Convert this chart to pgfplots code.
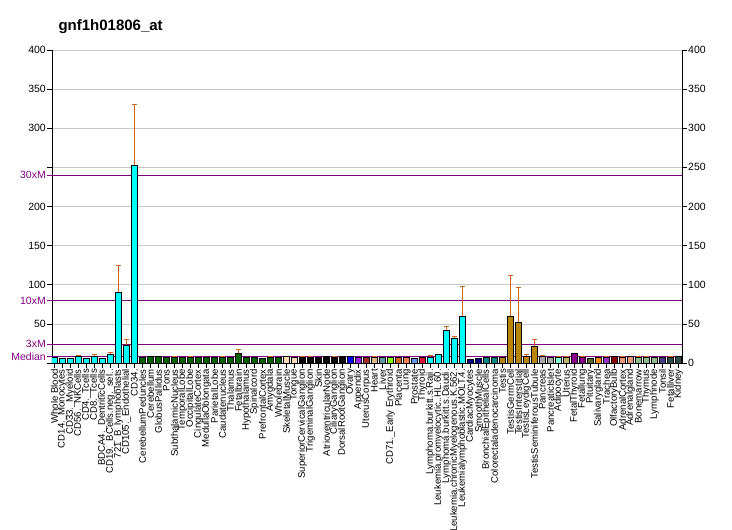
\documentclass[border=0pt]{standalone}
\usepackage{fontspec}
\setmainfont{Liberation Sans}
\usepackage{pgfplots}
\pgfplotsset{compat=1.18}

\definecolor{cyanc}{HTML}{00FFFF}
\definecolor{dgreen}{HTML}{006400}
\definecolor{peach}{HTML}{FFDAB9}
\definecolor{blue0}{HTML}{0000FF}
\definecolor{purp}{HTML}{A020F0}
\definecolor{brown0}{HTML}{A52A2A}
\definecolor{burly}{HTML}{DEB887}
\definecolor{cadet}{HTML}{5F9EA0}
\definecolor{chart}{HTML}{7FFF00}
\definecolor{choc}{HTML}{D2691E}
\definecolor{coral0}{HTML}{FF7F50}
\definecolor{cornfl}{HTML}{6495ED}
\definecolor{crimson}{HTML}{DC143C}
\definecolor{dblue}{HTML}{00008B}
\definecolor{dcyan}{HTML}{008B8B}
\definecolor{dgold}{HTML}{B8860B}
\definecolor{dgray}{HTML}{A9A9A9}
\definecolor{aquam}{HTML}{7FFFD4}
\definecolor{dkhaki}{HTML}{BDB76B}
\definecolor{dmag}{HTML}{8B008B}
\definecolor{dolive}{HTML}{556B2F}
\definecolor{dorange}{HTML}{FF8C00}
\definecolor{dorchid}{HTML}{9932CC}
\definecolor{dred}{HTML}{8B0000}
\definecolor{dsalmon}{HTML}{E9967A}
\definecolor{dsea}{HTML}{8FBC8F}
\definecolor{dslblue}{HTML}{483D8B}
\definecolor{dslgray}{HTML}{2F4F4F}
\definecolor{mline}{HTML}{800080}
\definecolor{errc}{HTML}{CD661D}
\definecolor{gridc}{HTML}{C8C8C8}

\pgfplotsset{
  gbar/.style={ybar, bar width=6pt, bar shift=0pt, draw=black, line width=0.8pt, fill=#1},
}

\begin{document}
\begin{tikzpicture}[x=1pt,y=1pt]
\path[use as bounding box] (-52,-167) rectangle (680,363);
\begin{axis}[
  at={(0,0)}, anchor=south west,
  width=630pt, height=313pt, scale only axis,
  xmin=0.71, xmax=79.44, ymin=0, ymax=400,
  axis x line*=bottom, axis y line*=left,
  axis line style={line width=0.8pt},
  tick align=outside, major tick length=5pt,
  tick style={black, line width=0.6pt},
  ytick={0,50,...,400},
  yticklabels={,50,100,150,200,,300,350,400},
  ymajorgrids=true,
  grid style={gridc, line width=0.7pt},
  extra y ticks={8,24,80,240},
  extra y tick labels={Median,3xM,10xM,30xM},
  extra y tick style={grid=major, major grid style={mline, line width=0.8pt},
    tick style={mline}, yticklabel style={text=mline}},
  yticklabel style={font=\fontsize{10.5}{12}\selectfont, inner sep=1pt},
  /pgf/number format/assume math mode=true,
  xtick={1,...,79},
  xticklabels={Whole Blood,CD14.\_Monocytes,CD33.\_Myeloid,CD56.\_NKCells,CD4.\_Tcells,CD8.\_Tcells,BDCA4.\_DentriticCells,CD19.\_BCells.neg.\_sel..,721\_B\_lymphoblasts,CD105.\_Endothelial,CD34.,CerebellumPeduncles,Cerebellum,GlobusPallidus,Pons,SubthalamicNucleus,TemporalLobe,OccipitalLobe,CingulateCortex,MedullaOblongata,ParietalLobe,Caudatenucleus,Thalamus,Fetalbrain,Hypothalamus,Spinalcord,PrefrontalCortex,Amygdala,Wholebrain,SkeletalMuscle,Tongue,SuperiorCervicalGanglion,TrigeminalGanglion,Skin,AtrioventricularNode,CiliaryGanglion,DorsalRootGanglion,Ovary,Appendix,UterusCorpus,Heart,Liver,CD71.\_Early Erythroid,Placenta,Lung,Prostate,Thyroid,Lymphoma.burkitt.s.Raji.,Leukemia.promyelocytic..HL.60.,Lymphoma.burkitt.s.Daudi.,Leukemia.chronicMyelogenous.K.562.,Leukemialymphoblastic.MOLT.4.,CardiacMyocytes,SmoothMuscle,BronchialEpithelialCells,Colorectaladenocarcinoma,Testis,TestisGermCell,TestisInterstitial,TestisLeydigCell,TestisSeminiferousTubule,Pancreas,PancreaticIslet,Adipocyte,Uterus,FetalThyroid,Fetallung,Pituitary,Salivarygland,Trachea,OlfactoryBulb,AdrenalCortex,Adrenalgland,Bonemarrow,Thymus,Lymphnode,Tonsil,Fetalliver,Kidney},
  xticklabel style={rotate=90, anchor=east, inner sep=1pt, font=\fontsize{9.6}{9.6}\selectfont},
]
% error bars first, so the bar outlines sit on top
\addplot[ybar, bar width=6pt, bar shift=0pt, draw=none, fill=none, forget plot,
  error bars/.cd, y dir=plus, y explicit, error mark=|,
  error bar style={errc, line width=0.8pt},
  error mark options={errc, mark size=2.5pt, line width=0.8pt}]
  coordinates {
  (4,8)+-(0,2) (6,8)+-(0,3) (8,11)+-(0,3) (9,90)+-(0,35) (10,23)+-(0,7) (11,253)+-(0,77)
  (16,7)+-(0,1.5) (18,7)+-(0,1.5) (22,7)+-(0,1.5) (24,12.4)+-(0,5) (28,7)+-(0,1.5)
  (32,7)+-(0,1.5) (33,7)+-(0,1.5) (36,7)+-(0,1.5) (38,8)+-(0,1) (41,7)+-(0,2)
  (48,7)+-(0,2.8) (50,42)+-(0,5) (51,31.5)+-(0,2.5) (52,60)+-(0,38)
  (58,60)+-(0,52) (59,52)+-(0,45) (60,8.5)+-(0,2.5) (61,21)+-(0,9) (62,8.5)+-(0,1.5)
  (64,7)+-(0,1.5) (65,7)+-(0,1.5) (67,7)+-(0,1.5) (70,7)+-(0,1.5) (72,7)+-(0,1.5)
  (74,7)+-(0,1.5) (75,7)+-(0,1.5) (78,7)+-(0,1.5)
  };
\addplot[gbar=cyanc] coordinates {(1,7)(2,6)(3,6)(4,8)(5,6)(6,8)(7,6)(8,11)(9,90)(10,23)(11,253)
  (48,7)(49,11)(50,42)(51,31.5)(52,60)};
\addplot[gbar=dgreen] coordinates {(12,7)(13,8)(14,8)(15,7)(16,7)(17,7)(18,7)(19,7)(20,7)(21,7)
  (22,7)(23,7)(24,12.4)(25,7)(26,7)(27,6)(28,7)(29,7)};
\addplot[gbar=peach] coordinates {(30,8)(31,7)};
\addplot[gbar=black] coordinates {(32,7)(33,7)(34,7.5)(35,8)(36,7)(37,8)};
\addplot[gbar=blue0] coordinates {(38,8)};
\addplot[gbar=purp] coordinates {(39,7)};
\addplot[gbar=brown0] coordinates {(40,7)};
\addplot[gbar=burly] coordinates {(41,7)};
\addplot[gbar=cadet] coordinates {(42,7)};
\addplot[gbar=chart] coordinates {(43,7)};
\addplot[gbar=choc] coordinates {(44,7)};
\addplot[gbar=coral0] coordinates {(45,7)};
\addplot[gbar=cornfl] coordinates {(46,6)};
\addplot[gbar=crimson] coordinates {(47,7)};
\addplot[gbar=dblue] coordinates {(53,4.7)(54,6)};
\addplot[gbar=dcyan] coordinates {(55,7)(56,7)};
\addplot[gbar=dgold] coordinates {(57,7)(58,60)(59,52)(60,8.5)(61,21)};
\addplot[gbar=dgray] coordinates {(62,8.5)(63,7)};
\addplot[gbar=aquam] coordinates {(64,7)};
\addplot[gbar=dkhaki] coordinates {(65,7)};
\addplot[gbar=dmag] coordinates {(66,12.4)(67,7)};
\addplot[gbar=dolive] coordinates {(68,6)};
\addplot[gbar=dorange] coordinates {(69,7)};
\addplot[gbar=dorchid] coordinates {(70,7)};
\addplot[gbar=dred] coordinates {(71,8)};
\addplot[gbar=dsalmon] coordinates {(72,7)(73,8)};
\addplot[gbar=dsea] coordinates {(74,7)(75,7)(76,7)};
\addplot[gbar=dslblue] coordinates {(77,7)};
\addplot[gbar=dslgray] coordinates {(78,7)(79,9)};
\end{axis}
\begin{axis}[
  at={(0,0)}, anchor=south west,
  width=630pt, height=313pt, scale only axis,
  xmin=0.71, xmax=79.44, ymin=0, ymax=400,
  axis y line*=right, axis x line=none,
  axis line style={line width=0.8pt},
  tick align=outside, major tick length=5pt,
  tick style={black, line width=0.6pt},
  ytick={0,50,...,400},
  yticklabel style={font=\fontsize{10.5}{12}\selectfont, inner sep=1pt},
  /pgf/number format/assume math mode=true,
]
\addplot[draw=none, forget plot] coordinates {(1,0)};
\end{axis}
\node[anchor=base west, font=\fontsize{15}{18}\selectfont\bfseries] at (3,332) {gnf1h01806\_at};
\end{tikzpicture}
\end{document}
